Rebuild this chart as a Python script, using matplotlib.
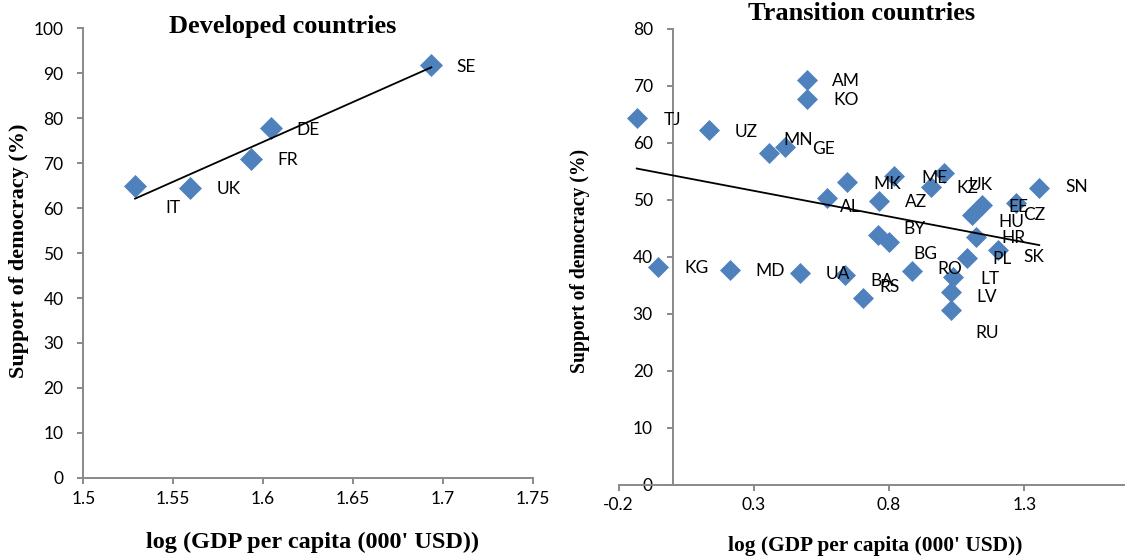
import numpy as np
import matplotlib
matplotlib.use("Agg")
import matplotlib.pyplot as plt

# ---- Developed countries ----
dev_codes = ["IT", "UK", "FR", "DE", "SE"]
dev_loggdp = [1.5288, 1.5593, 1.5935, 1.6042, 1.6937]
dev_support = [65.0, 64.4, 71.0, 77.8, 91.9]

# ---- Transition countries ----
tr_codes = ["TJ", "UZ", "MN", "GE", "AM", "KO", "MK", "AL", "ME", "AZ",
            "KZ", "UK", "EE", "HU", "CZ", "SN", "HR", "BY", "BG", "SK",
            "PL", "RO", "KG", "MD", "UA", "BA", "RS", "LT", "LV", "RU"]
tr_loggdp = [-0.133, 0.134, 0.357, 0.415, 0.495, 0.496, 0.645, 0.572, 0.818, 0.764,
             0.956, 1.003, 1.142, 1.105, 1.270, 1.355, 1.121, 0.760, 0.801, 1.201,
             1.087, 0.883, -0.055, 0.212, 0.471, 0.637, 0.702, 1.038, 1.028, 1.028]
tr_support = [64.3, 62.2, 58.2, 59.2, 70.9, 67.7, 53.0, 50.3, 54.2, 49.8,
              52.2, 54.7, 49.0, 47.2, 49.4, 52.0, 43.5, 43.7, 42.5, 41.2,
              39.8, 37.4, 38.2, 37.7, 37.1, 36.8, 32.7, 36.4, 33.7, 30.6]

dev_xticks = [1.5, 1.55, 1.6, 1.65, 1.7, 1.75]
dev_xticklabels = ["1.5", "1.55", "1.6", "1.65", "1.7", "1.75"]
tr_xticks = [-0.2, 0.3, 0.8, 1.3]
tr_xticklabels = ["-0.2", "0.3", "0.8", "1.3"]

# label placement: (right, down) shift of each label's left edge / centre, in pixels
dev_label_shift = {"IT": (30, 22.7), "UK": (26.4, 0.7), "FR": (26.4, 1.7),
                   "DE": (26, 1.3), "SE": (25.3, 1.7)}
tr_label_shift = {"TJ": (26.6, 1.7), "UZ": (26, 1.7), "MN": (14, -12.7), "GE": (26.7, 2),
                  "AM": (25.2, 0.7), "KO": (26.3, 1), "MK": (26, 1.7), "AL": (12.7, 9),
                  "ME": (27.7, 2.8), "AZ": (25.7, 1.2), "KZ": (25.4, 1.3), "UK": (24.3, 12.3),
                  "EE": (26.6, 1.7), "HU": (26.6, 6.7), "CZ": (7, 12.5), "SN": (25.7, -1.3),
                  "HR": (25.7, 1.3), "BY": (25, -6.7), "BG": (24, 11.3), "SK": (25.8, 7.7),
                  "PL": (26, 1), "RO": (25.8, -2.7), "KG": (26.3, 1.3), "MD": (25.7, 1.4),
                  "UA": (26, 0.6), "BA": (25, 6.4), "RS": (16.6, -11.3), "LT": (26.5, 1.6),
                  "LV": (26, 5), "RU": (24.3, 23.4)}

DPI = 100
W, H = 1125, 558
BLUE = "#4F81BD"
GREY = "#898989"
TICK_FONT = "Lato"
HEAD_FONT = "Liberation Serif"

fig = plt.figure(figsize=(W / DPI, H / DPI), dpi=DPI)


def px_box(x0, y_top, x1, y_bot):
    return [x0 / W, 1 - y_bot / H, (x1 - x0) / W, (y_bot - y_top) / H]


def style_axis(ax):
    for side in ("top", "right"):
        ax.spines[side].set_visible(False)
    for side in ("left", "bottom"):
        ax.spines[side].set_color(GREY)
        ax.spines[side].set_linewidth(1.4)
    ax.tick_params(axis="both", direction="out", length=4.3, width=1.4,
                   color=GREY, labelsize=12.5, labelcolor="black")
    ax.tick_params(axis="y", pad=10)
    ax.tick_params(axis="x", pad=5)
    for lab in ax.get_xticklabels() + ax.get_yticklabels():
        lab.set_family(TICK_FONT)


def draw_points(ax, xs, ys, codes, shifts, ms):
    ax.plot(xs, ys, linestyle="none", marker="D", markersize=ms,
            markerfacecolor=BLUE, markeredgecolor=BLUE, markeredgewidth=0.5,
            clip_on=False, zorder=3)
    # linear trend across the observed range
    slope, icpt = np.polyfit(xs, ys, 1)
    xr = np.array([min(xs), max(xs)])
    ax.plot(xr, slope * xr + icpt, color="black", linewidth=1.3, zorder=4)
    for x, y, c in zip(xs, ys, codes):
        dx, dy = shifts[c]
        ax.annotate(c, (x, y), xytext=(dx * 72 / DPI, -dy * 72 / DPI),
                    textcoords="offset points", ha="left", va="center",
                    fontsize=12.5, family=TICK_FONT, color="black", zorder=5)


# ---- left panel ----
axL = fig.add_axes(px_box(83.3, 28.5, 532.5, 477.7))
axL.set_xlim(1.5, 1.75)
axL.set_ylim(0, 100)
axL.set_xticks(dev_xticks)
axL.set_xticklabels(dev_xticklabels)
axL.set_yticks(np.arange(0, 101, 10))
style_axis(axL)
draw_points(axL, dev_loggdp, dev_support, dev_codes, dev_label_shift, 11.5)

# ---- right panel ----
axR = fig.add_axes(px_box(618.6, 28.5, 1159.6, 484.5))
axR.set_xlim(-0.2, 1.8)
axR.set_ylim(0, 80)
axR.set_xticks(tr_xticks)
axR.set_xticklabels(tr_xticklabels)
axR.set_yticks(np.arange(0, 81, 10))
axR.spines["left"].set_position(("data", 0))
style_axis(axR)
draw_points(axR, tr_loggdp, tr_support, tr_codes, tr_label_shift, 10)

# ---- titles and axis captions ----
head = dict(family=HEAD_FONT, weight="bold", color="black", ha="center", va="center")
fig.text(283 / W, 1 - 26 / H, "Developed countries", fontsize=19, **head)
fig.text(862 / W, 1 - 14 / H, "Transition countries", fontsize=19, **head)
fig.text(313 / W, 1 - 542 / H, "log (GDP per capita (000' USD))", fontsize=17.5, **head)
fig.text(875 / W, 1 - 546 / H, "log (GDP per capita (000' USD))", fontsize=15.4, **head)
fig.text(19 / W, 1 - 251 / H, "Support of democracy (%)", fontsize=16, rotation=90, **head)
fig.text(580 / W, 1 - 261 / H, "Support of democracy (%)", fontsize=14.1, rotation=90, **head)

fig.savefig("out.png", dpi=DPI)
